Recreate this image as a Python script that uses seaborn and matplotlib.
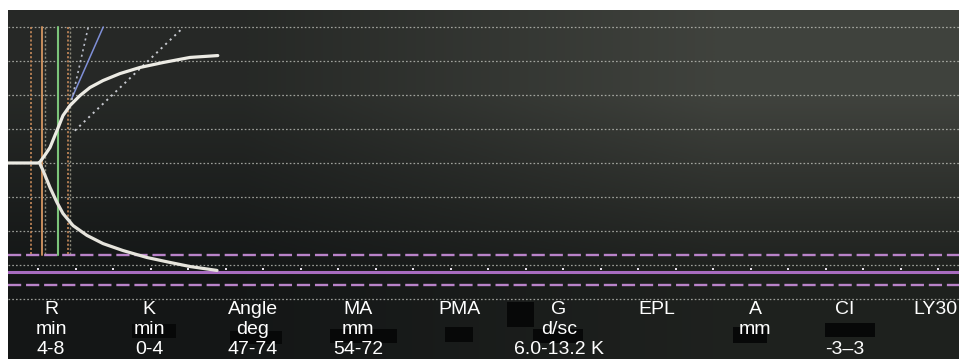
import numpy as np
import pandas as pd
import matplotlib
matplotlib.use('Agg')
import matplotlib.pyplot as plt
import seaborn as sns
from matplotlib.patches import Rectangle

# ---- data (time in min, amplitude in mm) ----
upper_t = [1.0, 5.0, 5.27, 5.9, 6.6, 7.53, 8.33, 9.27, 10.6, 11.93, 13.67, 15.93, 18.6, 21.67, 25.27, 28.97]
upper_a = [0, 0, 0.6, 4.5, 9.1, 19.1, 27.9, 33.8, 39.7, 44.4, 48.5, 52.6, 56.2, 59.1, 62.1, 63.2]
lower_t = [5.27, 5.67, 6.6, 7.53, 8.33, 9.67, 11.53, 13.67, 16.33, 19.53, 22.6, 25.27, 28.87]
lower_a = [-0.6, -4.4, -14.4, -23.2, -29.7, -36.8, -42.6, -47.4, -51.5, -55.6, -58.5, -60.9, -63.2]

grid_levels = [80, 60, 40, 20, 0, -20, -40, -60, -80]
ma_range = [-54, -72]
ma_value = -64
tick_times = np.arange(5, 130, 5)

r_lines = {'orange_dotted': [4.1, 9.0], 'orange': [5.5], 'green': [7.7], 'grey_dotted': [5.9, 9.3]}
angle_blue = ([9.5, 13.7], [38, 80])
angle_dot1 = ([9.5, 11.7], [37, 80])
angle_dot2 = ([9.9, 24.2], [19, 79])

params = ['R', 'K', 'Angle', 'MA', 'PMA', 'G', 'EPL', 'A', 'CI', 'LY30']
units = ['min', 'min', 'deg', 'mm', '', 'd/sc', '', 'mm', '', '']
ranges = ['4-8', '0-4', '47-74', '54-72', '', '6.0-13.2 K', '', '', '-3\u20133', '']
col_x = [51, 149, 253, 358, 459, 559, 657, 755, 845, 935]

sns.set_theme(style='dark')
plt.rcParams['font.family'] = ['Liberation Sans', 'DejaVu Sans']
plt.rcParams['lines.scale_dashes'] = False

W, H = 959, 359
fig = plt.figure(figsize=(W / 100, H / 100), dpi=100, facecolor='white')

# background with soft gradient
bg = fig.add_axes([8 / W, 0, 1 - 8 / W, 1 - 10 / H])
grad = np.array([[[0.15, 0.16, 0.15], [0.25, 0.26, 0.24]],
                 [[0.08, 0.09, 0.09], [0.12, 0.13, 0.12]]])
bg.imshow(grad, aspect='auto', interpolation='bilinear', extent=[0, 1, 0, 1])
bg.set_axis_off()

ax = fig.add_axes([8 / W, 0, 1 - 8 / W, 1 - 10 / H])
ax.patch.set_alpha(0)
ax.set_xlim(1.0, 127.8)
ax.set_ylim(-115.3, 90)
ax.set_axis_off()

# dotted grid
for g in grid_levels:
    ax.axhline(g, color='#c9cbc4', lw=0.9, ls=(0, (1.2, 1.5)), alpha=0.75)

# MA range (pink)
for m in ma_range:
    ax.axhline(m, color='#b983c9', lw=1.7, ls=(0, (9.5, 3.5)))
ax.axhline(ma_value, color='#a86cc0', lw=2.2)
sns.scatterplot(x=tick_times, y=np.full(len(tick_times), ma_value + 1.6), ax=ax,
                marker='s', s=3, color='#e6e0ea', linewidth=0, legend=False)

# R / K markers
for t in r_lines['orange_dotted']:
    ax.plot([t, t], [80, -54], color='#c88a5a', lw=1.2, ls=(0, (1.5, 1.5)))
for t in r_lines['grey_dotted']:
    ax.plot([t, t], [80, -54], color='#b8b4a0', lw=1.0, ls=(0, (1.5, 1.5)), alpha=0.7)
for t in r_lines['orange']:
    ax.plot([t, t], [80, -54], color='#c98f5e', lw=1.4)
for t in r_lines['green']:
    ax.plot([t, t], [80, -54], color='#7cc47a', lw=1.5)

# angle lines
ax.plot(*angle_blue, color='#7f8fd6', lw=1.1)
ax.plot(*angle_dot1, color='#b8bcc8', lw=1.2, ls=(0, (1.5, 2.5)))
ax.plot(*angle_dot2, color='#c8cad0', lw=1.4, ls=(0, (1.5, 3)))

# trace
trace = pd.DataFrame({'t': upper_t, 'a': upper_a})
sns.lineplot(data=trace, x='t', y='a', ax=ax, color='#ecebe4', lw=2.3, sort=False,
             solid_joinstyle='round', solid_capstyle='round')
trace_low = pd.DataFrame({'t': lower_t, 'a': lower_a})
sns.lineplot(data=trace_low, x='t', y='a', ax=ax, color='#e6e4dc', lw=2.3, sort=False,
             solid_joinstyle='round', solid_capstyle='round')

# parameter table in pixel coordinates
ov = fig.add_axes([0, 0, 1, 1])
ov.patch.set_alpha(0)
ov.set_xlim(0, W)
ov.set_ylim(H, 0)
ov.set_axis_off()
boxes = [(132, 324, 44, 14), (230, 331, 52, 13), (330, 329, 67, 14), (445, 327, 28, 15),
         (507, 302, 27, 25), (533, 329, 50, 14), (733, 327, 34, 16), (825, 323, 50, 14)]
for bx, by, bw, bh in boxes:
    ov.add_patch(Rectangle((bx, by), bw, bh, color='#070808', lw=0))

for x, p, u, r in zip(col_x, params, units, ranges):
    ov.text(x, 309, p, color='white', fontsize=14, ha='center', va='center')
    ov.text(x, 330, u, color='white', fontsize=14, ha='center', va='center')
    ov.text(x, 350, r, color='white', fontsize=14, ha='center', va='center')

fig.savefig('out.png', dpi=100, facecolor='white')
